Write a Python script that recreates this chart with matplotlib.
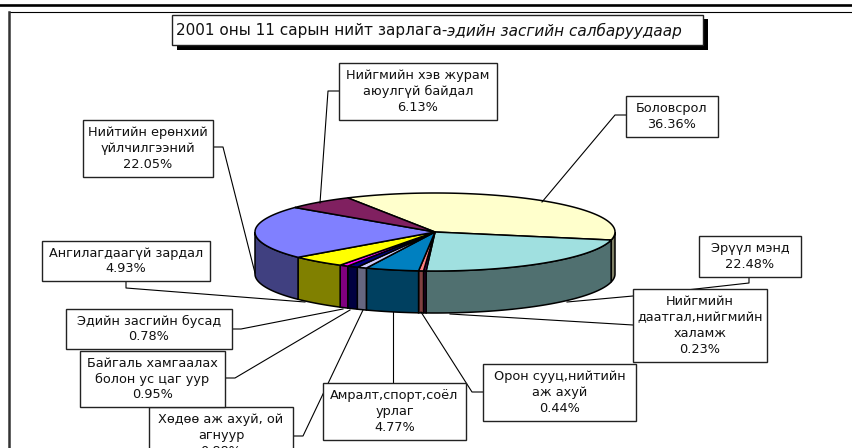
import numpy as np
import matplotlib
matplotlib.use('Agg')
import matplotlib.pyplot as plt
from matplotlib.patches import Rectangle

title_plain = '2001 оны 11 сарын нийт зарлага-'
title_italic = 'эдийн засгийн салбаруудаар'

names = ['Боловсрол', 'Эрүүл мэнд', 'Нийгмийн\nдаатгал,нийгмийн\nхаламж',
         'Орон сууц,нийтийн\nаж ахуй', 'Амралт,спорт,соёл\nурлаг',
         'Хөдөө аж ахуй, ой\nагнуур', 'Байгаль хамгаалах\nболон ус цаг уур',
         'Эдийн засгийн бусад', 'Ангилагдаагүй зардал',
         'Нийтийн ерөнхий\nүйлчилгээний', 'Нийгмийн хэв журам\nаюулгүй байдал']
shares = [36.36, 22.48, 0.23, 0.44, 4.77, 0.88, 0.95, 0.78, 4.93, 22.05, 6.13]
top_colors = ['#FFFFCC', '#A0E0E0', '#660066', '#FF8080', '#0080C0', '#CCCCFF',
              '#000080', '#FF00FF', '#FFFF00', '#8080FF', '#802060']
side_colors = ['#808066', '#507070', '#330033', '#804040', '#004060', '#666680',
               '#000040', '#800080', '#808000', '#404080', '#401030']

# label box: left, top, right, bottom in pixels
boxes = [(626, 96, 718, 137), (699, 236, 801, 277), (633, 289, 767, 362),
         (483, 364, 636, 421), (323, 383, 466, 440), (149, 407, 293, 464),
         (80, 351, 225, 407), (66, 309, 232, 349), (42, 241, 210, 281),
         (83, 120, 213, 177), (339, 63, 497, 120)]
leaders = [[(626, 115), (615, 115), (542, 202)],
           [(749, 277), (749, 283), (633, 296), (567, 302)],
           [(633, 325), (450, 314)],
           [(483, 392), (472, 392), (421, 312)],
           [(393, 383), (393, 312)],
           [(293, 436), (303, 436), (363, 310)],
           [(225, 378), (235, 378), (350, 310)],
           [(232, 329), (241, 329), (343, 309)],
           [(126, 281), (126, 288), (305, 302)],
           [(213, 147), (223, 147), (255, 273)],
           [(339, 91), (328, 91), (320, 203)]]

cx, cy, rx, ry, depth = 435, 232, 180, 39, 42
start_deg = -29

fig = plt.figure(figsize=(8.52, 4.48), dpi=100)
ax = fig.add_axes([0, 0, 1, 1])
ax.set_xlim(0, 852)
ax.set_ylim(448, 0)
ax.axis('off')
plt.rcParams['font.family'] = ['DejaVu Sans']

# page rules
ax.plot([0, 852], [5.5, 5.5], color='black', lw=1.9)
ax.plot([9, 852], [12, 12], color='black', lw=0.8)
ax.plot([9, 9], [12, 448], color='#333333', lw=1.8)


def arc(a0, a1):
    t = np.radians(np.linspace(a0, a1, max(int(abs(a1 - a0) * 2), 2)))
    return cx + rx * np.sin(t), cy - ry * np.cos(t)


# pie: angles clockwise from the top, from the shares
edges = start_deg + np.cumsum([0] + shares) * 360 / sum(shares)

for i in range(len(shares)):
    a0, a1 = max(edges[i], 90), min(edges[i + 1], 270)
    if a1 <= a0:
        continue
    x, y = arc(a0, a1)
    ax.fill(np.r_[x, x[::-1]], np.r_[y, y[::-1] + depth],
            facecolor=side_colors[i], edgecolor='black', lw=1.1, zorder=2)

for i in range(len(shares)):
    x, y = arc(edges[i], edges[i + 1])
    ax.fill(np.r_[cx, x], np.r_[cy, y], facecolor=top_colors[i],
            edgecolor='black', lw=1.1, zorder=3)

# leaders and label boxes
for pts in leaders:
    ax.plot(*zip(*pts), color='black', lw=0.8, zorder=4)

for name, share, (l, t, r, b) in zip(names, shares, boxes):
    ax.add_patch(Rectangle((l, t), r - l, b - t, facecolor='white',
                           edgecolor='#222222', lw=1, zorder=5))
    ax.text((l + r) / 2, (t + b) / 2, f'{name}\n{share:.2f}%', ha='center',
            va='center', ma='center', fontsize=9.3, linespacing=1.28,
            color='#111111', zorder=6)

# title box with drop shadow
ax.add_patch(Rectangle((177, 19), 531, 31, facecolor='black', lw=0, zorder=5))
ax.add_patch(Rectangle((172, 15), 531, 30, facecolor='white',
                       edgecolor='#222222', lw=1, zorder=6))
tp = ax.text(176, 31, title_plain, ha='left', va='center', fontsize=11,
             color='#111111', zorder=7)
fig.canvas.draw()
end_x = tp.get_window_extent().x1
ax.text(end_x, 31, title_italic, ha='left', va='center', fontsize=11,
        style='italic', color='#111111', zorder=7)

fig.savefig('out.png', dpi=100)
